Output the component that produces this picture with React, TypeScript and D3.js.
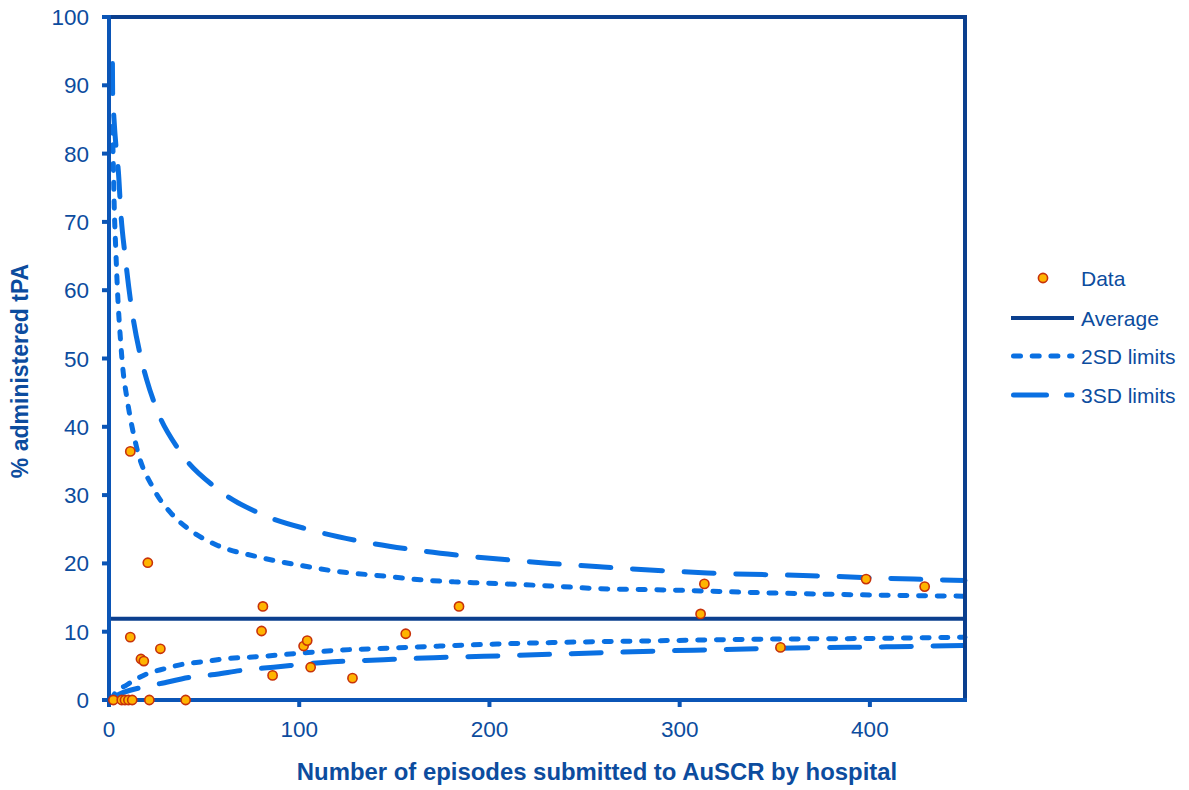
import React from "react";
import * as d3 from "d3";

// Hospital-level data: [episodes submitted, % administered tPA]
const hospitalEpisodes = [2.3, 6.7, 8.4, 10.2, 12.2, 21.2, 40.3, 11.2, 11.2, 20.4, 16.8, 18.3, 27, 80.9, 80.2, 86, 102.3, 104.2, 106, 128, 156, 184, 311, 313, 353, 398, 428.8];
const hospitalTpa = [0, 0, 0, 0, 0, 0, 0, 36.4, 9.2, 20.1, 6.0, 5.7, 7.5, 13.7, 10.1, 3.6, 7.9, 8.7, 4.8, 3.2, 9.7, 13.7, 12.6, 17.0, 7.7, 17.7, 16.6];

const averageTpa = 11.9;

// Control limits, as [episodes, %]
const upper3SD: [number, number][] = [
  [1.8, 93.2], [1.9, 89], [2.6, 85.2], [4, 80], [4.9, 77.5], [6.3, 71], [8.4, 65.2], [11.8, 57.5],
  [16.7, 50.2], [19.8, 46.9], [24.6, 42.9], [37.3, 36.4], [56.5, 31], [80.2, 27.2], [105.8, 24.9],
  [133, 23.2], [160, 22], [187.4, 21.1], [214.5, 20.4], [232, 20], [258, 19.5], [286.5, 19],
  [314.6, 18.6], [368.8, 18.2], [423, 17.7], [450, 17.5],
];
const upper2SD: [number, number][] = [
  [1.8, 84], [2.3, 78], [2.8, 71.7], [3.5, 66.4], [4.7, 58.6], [5.8, 53.7], [7.5, 47.9], [9.2, 44.6],
  [14.5, 37], [23.3, 31], [32.8, 27.3], [42.5, 24.9], [56.5, 22.7], [77.6, 21], [98.8, 19.8],
  [118, 18.9], [146, 18.1], [163.6, 17.6], [181.2, 17.3], [198.8, 17.1], [232, 16.7], [258, 16.3],
  [295, 16.1], [344, 15.7], [395, 15.4], [450, 15.2],
];
const lower2SD: [number, number][] = [
  [1, 0], [3.2, 1], [9.3, 2.2], [18.9, 3.7], [29.5, 4.6], [40, 5.3], [49.6, 5.6], [60, 6.0], [81, 6.4],
  [102, 6.9], [121.4, 7.3], [147.7, 7.6], [174, 7.9], [204, 8.2], [293.5, 8.7], [342.6, 8.9],
  [395, 9.0], [450, 9.2],
];
const lower3SD: [number, number][] = [
  [1, 0], [3.2, 0.5], [18, 1.9], [26.8, 2.4], [44.4, 3.4], [54, 3.7], [71.5, 4.4], [86.5, 4.8],
  [112.8, 5.5], [144.4, 5.9], [170.7, 6.2], [197, 6.4], [307.5, 7.3], [360, 7.6], [412.8, 7.8],
  [450, 8.0],
];

const xTicks = [0, 100, 200, 300, 400];
const yTicks = [0, 10, 20, 30, 40, 50, 60, 70, 80, 90, 100];

const legendItems = ["Data", "Average", "2SD limits", "3SD limits"];

const NAVY = "#0B3F8E";
const AXIS = "#0B55B6";
const LIMIT = "#0A70E2";
const TEXT = "#0C4C9E";
const FONT = "'Liberation Sans', Arial, sans-serif";
const DASH2 = "7 11.7";
const DASH3 = "30 21.7";

export default function App() {
  const left = 109, right = 965, top = 17, bottom = 700;
  const x = d3.scaleLinear().domain([0, 450]).range([left, right]);
  const y = d3.scaleLinear().domain([0, 100]).range([bottom, top]);
  const line = d3
    .line<[number, number]>()
    .x((d) => x(d[0]))
    .y((d) => y(d[1]))
    .curve(d3.curveMonotoneX);

  const limitStyle = {
    fill: "none",
    stroke: LIMIT,
    strokeWidth: 5,
    strokeLinecap: "round" as const,
  };

  const legendX = 1011;
  const legendY = [278, 318, 356, 395];

  return (
    <svg
      width={1189}
      height={790}
      style={{ position: "absolute", left: 0, top: 0, background: "#fff" }}
      fontFamily={FONT}
    >
      {/* control limits */}
      <path d={line(upper3SD) ?? ""} {...limitStyle} strokeDasharray={DASH3} />
      <path d={line(lower3SD) ?? ""} {...limitStyle} strokeDasharray={DASH3} />
      <path d={line(upper2SD) ?? ""} {...limitStyle} strokeDasharray={DASH2} />
      <path d={line(lower2SD) ?? ""} {...limitStyle} strokeDasharray={DASH2} />

      {/* average */}
      <line x1={x(0)} x2={x(450)} y1={y(averageTpa)} y2={y(averageTpa)} stroke={NAVY} strokeWidth={4} />

      {/* frame: top and right */}
      <line x1={left} x2={right + 2} y1={top} y2={top} stroke={NAVY} strokeWidth={4} />
      <line x1={right} x2={right} y1={top} y2={bottom} stroke={NAVY} strokeWidth={4} />

      {/* y axis */}
      <line x1={left} x2={left} y1={top - 2} y2={bottom + 2} stroke={AXIS} strokeWidth={4} />
      {yTicks.map((t) => (
        <g key={`y${t}`}>
          <line x1={left - 7} x2={left} y1={y(t)} y2={y(t)} stroke={AXIS} strokeWidth={4} />
          <text x={89} y={y(t) + 8} textAnchor="end" fontSize={22.5} fill={TEXT}>
            {t}
          </text>
        </g>
      ))}

      {/* x axis */}
      <line x1={left - 7} x2={right + 2} y1={bottom} y2={bottom} stroke={AXIS} strokeWidth={4} />
      {xTicks.map((t) => (
        <g key={`x${t}`}>
          <line x1={x(t)} x2={x(t)} y1={bottom} y2={bottom + 7} stroke={AXIS} strokeWidth={4} />
          <text x={x(t)} y={737} textAnchor="middle" fontSize={22.5} fill={TEXT}>
            {t}
          </text>
        </g>
      ))}

      {/* data points */}
      {hospitalEpisodes.map((n, i) => (
        <circle
          key={i}
          cx={x(n)}
          cy={y(hospitalTpa[i])}
          r={4.6}
          fill="#FFB400"
          stroke="#C8320A"
          strokeWidth={1.6}
        />
      ))}

      {/* axis titles */}
      <text x={597} y={780} textAnchor="middle" fontSize={23.9} fontWeight="bold" fill={TEXT}>
        Number of episodes submitted to AuSCR by hospital
      </text>
      <text
        transform={`translate(28, 371) rotate(-90)`}
        textAnchor="middle"
        fontSize={23}
        fontWeight="bold"
        fill={TEXT}
      >
        % administered tPA
      </text>

      {/* legend */}
      <circle cx={1043} cy={legendY[0]} r={4.6} fill="#FFB400" stroke="#C8320A" strokeWidth={1.6} />
      <line x1={legendX} x2={legendX + 63} y1={legendY[1]} y2={legendY[1]} stroke={NAVY} strokeWidth={4} />
      <line
        x1={legendX + 2.5}
        x2={legendX + 61}
        y1={legendY[2]}
        y2={legendY[2]}
        {...limitStyle}
        strokeDasharray={DASH2}
      />
      <line
        x1={legendX + 2.5}
        x2={legendX + 61}
        y1={legendY[3]}
        y2={legendY[3]}
        {...limitStyle}
        strokeDasharray="33 20"
      />
      {legendItems.map((label, i) => (
        <text key={label} x={1081} y={legendY[i] + 7.5} fontSize={21} fill={TEXT}>
          {label}
        </text>
      ))}
    </svg>
  );
}
